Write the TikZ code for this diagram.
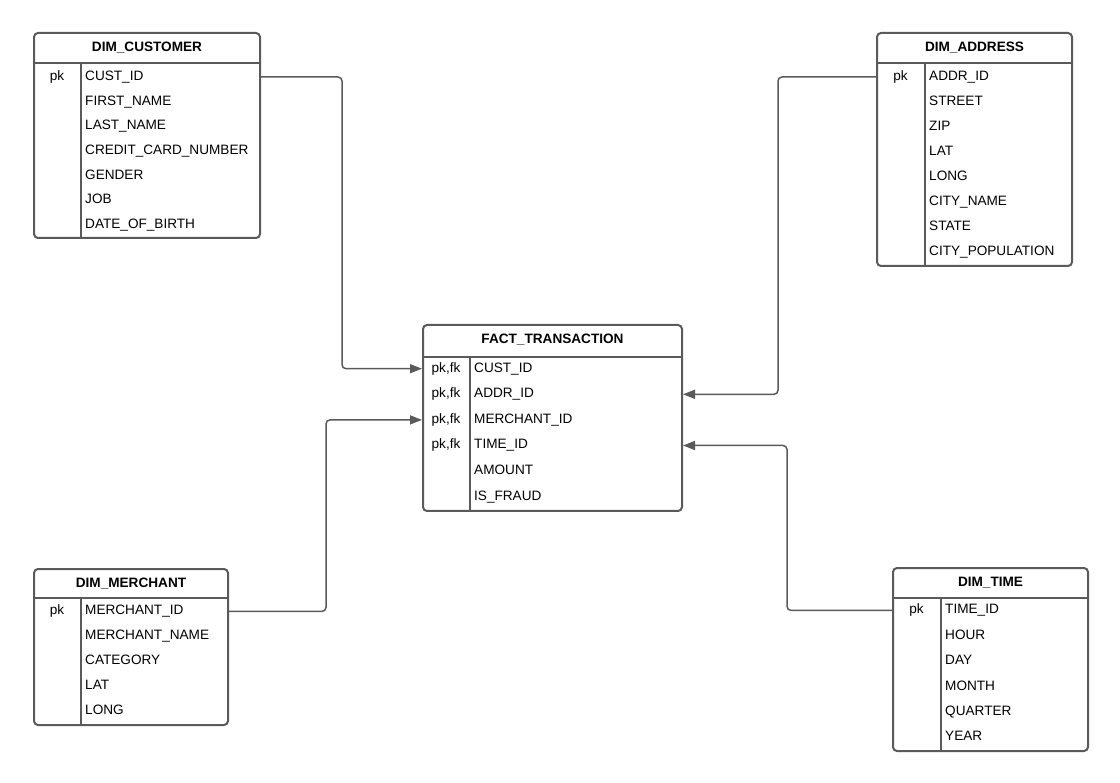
\documentclass[tikz,border=0pt]{standalone}
\usepackage{fontspec}
\setmainfont{Liberation Sans}
\usetikzlibrary{arrows.meta,calc}
\definecolor{edge}{HTML}{5A5A5A}
\tikzset{
  tbl/.style={draw=edge, line width=2pt, rounded corners=4pt, anchor=north west, inner sep=0pt},
  tblrule/.style={draw=edge, line width=2pt},
  hdr/.style={font=\fontsize{13.6}{16}\selectfont\bfseries, text height=10pt, text depth=3pt, inner sep=0pt},
  row/.style={font=\fontsize{13.6}{16}\selectfont, text height=10pt, text depth=3pt, inner sep=0pt, anchor=west},
  pkcell/.style={row, anchor=center},
  link/.style={draw=edge, line width=1.5pt, rounded corners=4pt, -{Triangle[length=12pt,width=9pt]}},
}
\begin{document}
\begin{tikzpicture}[x=1pt, y=-1pt]
\useasboundingbox (0,0) rectangle (1120,783);

\node[tbl, minimum width=226pt, minimum height=205pt] (cust) at (33,32) {};
\draw[tblrule] ($(cust.north west)+(0,31)$) -- ($(cust.north east)+(0,31)$);
\draw[tblrule] ($(cust.north west)+(48,31)$) -- ($(cust.south west)+(48,0)$);
\node[hdr] (cust-h) at ($(cust.north)+(0,16.4)$) {DIM\_CUSTOMER};
\node[pkcell] (cust-pk) at ($(cust.north west)+(24,45)$) {pk};
\foreach \t [count=\i from 0] in {CUST\_ID, FIRST\_NAME, LAST\_NAME, CREDIT\_CARD\_NUMBER, GENDER, JOB, DATE\_OF\_BIRTH}
  \node[row] (cust-\i) at ($(cust.north west)+(52,45+\i*24.7)$) {\t};

\node[tbl, minimum width=195pt, minimum height=233pt] (addr) at (876,32) {};
\draw[tblrule] ($(addr.north west)+(0,31)$) -- ($(addr.north east)+(0,31)$);
\draw[tblrule] ($(addr.north west)+(49,31)$) -- ($(addr.south west)+(49,0)$);
\node[hdr] (addr-h) at ($(addr.north)+(0,16.4)$) {DIM\_ADDRESS};
\node[pkcell] (addr-pk) at ($(addr.north west)+(24.5,45)$) {pk};
\foreach \t [count=\i from 0] in {ADDR\_ID, STREET, ZIP, LAT, LONG, CITY\_NAME, STATE, CITY\_POPULATION}
  \node[row] (addr-\i) at ($(addr.north west)+(53,45+\i*25)$) {\t};

\node[tbl, minimum width=259pt, minimum height=186pt] (fact) at (422,324) {};
\draw[tblrule] ($(fact.north west)+(0,33)$) -- ($(fact.north east)+(0,33)$);
\draw[tblrule] ($(fact.north west)+(48,33)$) -- ($(fact.south west)+(48,0)$);
\node[hdr] (fact-h) at ($(fact.north)+(0,16.4)$) {FACT\_TRANSACTION};
\foreach \i in {0,...,3}
  \node[pkcell] (fact-pk\i) at ($(fact.north west)+(24,44.7+\i*25.6)$) {pk,fk};
\foreach \t [count=\i from 0] in {CUST\_ID, ADDR\_ID, MERCHANT\_ID, TIME\_ID, AMOUNT, IS\_FRAUD}
  \node[row] (fact-\i) at ($(fact.north west)+(52,44.7+\i*25.6)$) {\t};

\node[tbl, minimum width=194pt, minimum height=156pt] (merch) at (33,568) {};
\draw[tblrule] ($(merch.north west)+(0,30)$) -- ($(merch.north east)+(0,30)$);
\draw[tblrule] ($(merch.north west)+(48,30)$) -- ($(merch.south west)+(48,0)$);
\node[hdr] (merch-h) at ($(merch.north)+(0,15.8)$) {DIM\_MERCHANT};
\node[pkcell] (merch-pk) at ($(merch.north west)+(24,43.4)$) {pk};
\foreach \t [count=\i from 0] in {MERCHANT\_ID, MERCHANT\_NAME, CATEGORY, LAT, LONG}
  \node[row] (merch-\i) at ($(merch.north west)+(52,43.4+\i*25)$) {\t};

\node[tbl, minimum width=195pt, minimum height=183pt] (time) at (892,567) {};
\draw[tblrule] ($(time.north west)+(0,31)$) -- ($(time.north east)+(0,31)$);
\draw[tblrule] ($(time.north west)+(49,31)$) -- ($(time.south west)+(49,0)$);
\node[hdr] (time-h) at ($(time.north)+(0,16.4)$) {DIM\_TIME};
\node[pkcell] (time-pk) at ($(time.north west)+(24.5,43.4)$) {pk};
\foreach \t [count=\i from 0] in {TIME\_ID, HOUR, DAY, MONTH, QUARTER, YEAR}
  \node[row] (time-\i) at ($(time.north west)+(53,43.4+\i*25.4)$) {\t};

\draw[link] (cust.east |- cust-0) -- ++(81,0) |- (fact.west |- fact-0);
\draw[link] (addr.west |- addr-0) -- ++(-98,0) |- (fact.east |- fact-1);
\draw[link] (merch.east |- merch-0) -- ++(97,0) |- (fact.west |- fact-2);
\draw[link] (time.west |- time-0) -- ++(-105,0) |- (fact.east |- fact-3);
\end{tikzpicture}
\end{document}
